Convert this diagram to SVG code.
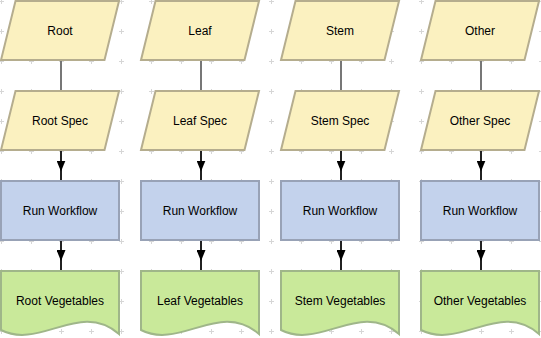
<svg xmlns="http://www.w3.org/2000/svg" width="541" height="338" viewBox="0 0 541 338">
<style>
.para{fill:#fbf1c0;stroke:#b5ad8e;stroke-width:2;stroke-linejoin:miter}
.proc{fill:#c3d2ec;stroke:#98a2b6;stroke-width:2}
.doc{fill:#c9e99a;stroke:#9fb689;stroke-width:2}
.lbl{font-family:"Liberation Sans",Arial,sans-serif;font-size:12px;fill:#000;text-anchor:middle}
.plain{stroke:#777;stroke-width:2;fill:none}
.arr{stroke:#222;stroke-width:2;fill:none;marker-mid:url(#ah)}
</style>
<defs>
<pattern id="grid" x="-14" y="-14" width="30" height="30" patternUnits="userSpaceOnUse">
<path d="M13,15.5H18M15.5,13V18" stroke="#d6d6d6" stroke-width="1" fill="none"/>
</pattern>
<marker id="ah" markerUnits="userSpaceOnUse" viewBox="0 0 11 9" markerWidth="11" markerHeight="9" refX="5.5" refY="4.5" orient="auto">
<path d="M0,0L11,4.5L0,9Z" fill="#000"/>
</marker>
</defs>
<rect width="541" height="338" fill="#fff"/>
<rect width="541" height="338" fill="url(#grid)"/>
<g id="connectors">
<path class="plain" d="M61,60V91"/>
<path class="arr" d="M61,150V166V181"/>
<path class="arr" d="M61,240V255.5V271"/>
<path class="plain" d="M201,60V91"/>
<path class="arr" d="M201,150V166V181"/>
<path class="arr" d="M201,240V255.5V271"/>
<path class="plain" d="M341,60V91"/>
<path class="arr" d="M341,150V166V181"/>
<path class="arr" d="M341,240V255.5V271"/>
<path class="plain" d="M481,60V91"/>
<path class="arr" d="M481,150V166V181"/>
<path class="arr" d="M481,240V255.5V271"/>
</g>
<g id="root">
<polygon class="para" points="15.5,1 119,1 104.5,60 1,60"/>
<text class="lbl" x="60" y="35">Root</text>
</g>
<g id="root-spec">
<polygon class="para" points="15.5,91 119,91 104.5,150 1,150"/>
<text class="lbl" x="60" y="125">Root Spec</text>
</g>
<g id="root-run">
<rect class="proc" x="1" y="181" width="118" height="59"/>
<text class="lbl" x="60" y="215">Run Workflow</text>
</g>
<g id="root-veg">
<path class="doc" d="M1,271H119V334C80,300 40,350 1,330Z"/>
<text class="lbl" x="60" y="305">Root Vegetables</text>
</g>
<g id="leaf">
<polygon class="para" points="155.5,1 259,1 244.5,60 141,60"/>
<text class="lbl" x="200" y="35">Leaf</text>
</g>
<g id="leaf-spec">
<polygon class="para" points="155.5,91 259,91 244.5,150 141,150"/>
<text class="lbl" x="200" y="125">Leaf Spec</text>
</g>
<g id="leaf-run">
<rect class="proc" x="141" y="181" width="118" height="59"/>
<text class="lbl" x="200" y="215">Run Workflow</text>
</g>
<g id="leaf-veg">
<path class="doc" d="M141,271H259V334C220,300 180,350 141,330Z"/>
<text class="lbl" x="200" y="305">Leaf Vegetables</text>
</g>
<g id="stem">
<polygon class="para" points="295.5,1 399,1 384.5,60 281,60"/>
<text class="lbl" x="340" y="35">Stem</text>
</g>
<g id="stem-spec">
<polygon class="para" points="295.5,91 399,91 384.5,150 281,150"/>
<text class="lbl" x="340" y="125">Stem Spec</text>
</g>
<g id="stem-run">
<rect class="proc" x="281" y="181" width="118" height="59"/>
<text class="lbl" x="340" y="215">Run Workflow</text>
</g>
<g id="stem-veg">
<path class="doc" d="M281,271H399V334C360,300 320,350 281,330Z"/>
<text class="lbl" x="340" y="305">Stem Vegetables</text>
</g>
<g id="other">
<polygon class="para" points="435.5,1 539,1 524.5,60 421,60"/>
<text class="lbl" x="480" y="35">Other</text>
</g>
<g id="other-spec">
<polygon class="para" points="435.5,91 539,91 524.5,150 421,150"/>
<text class="lbl" x="480" y="125">Other Spec</text>
</g>
<g id="other-run">
<rect class="proc" x="421" y="181" width="118" height="59"/>
<text class="lbl" x="480" y="215">Run Workflow</text>
</g>
<g id="other-veg">
<path class="doc" d="M421,271H539V334C500,300 460,350 421,330Z"/>
<text class="lbl" x="480" y="305">Other Vegetables</text>
</g>
</svg>
